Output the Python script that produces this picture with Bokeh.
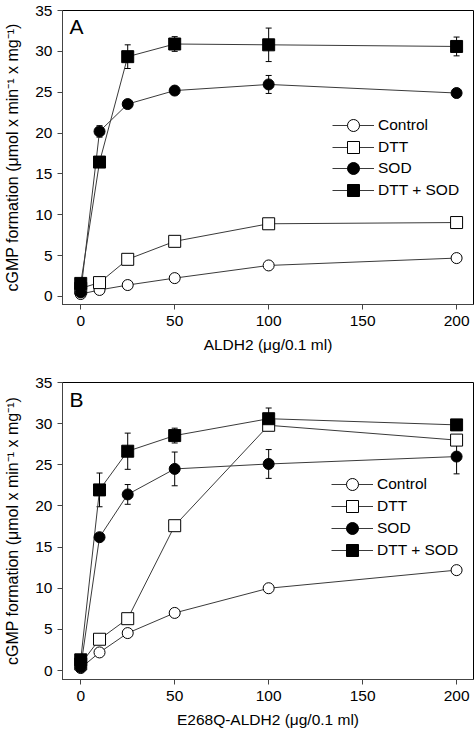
from bokeh.plotting import figure
from bokeh.layouts import column
from bokeh.models import ColumnDataSource, Whisker, TeeHead, Legend, LegendItem, Label
from bokeh.embed import file_html
from bokeh.resources import INLINE

# ---- data ----
conc = [0, 10, 25, 50, 100, 200]
x_ticks = [0, 50, 100, 150, 200]
y_ticks = [0, 5, 10, 15, 20, 25, 30, 35]
series_names = ["Control", "DTT", "SOD", "DTT + SOD"]

a_control = [0.3, 0.8, 1.4, 2.25, 3.8, 4.7]
a_dtt = [1.0, 1.7, 4.55, 6.75, 8.9, 9.05]
a_sod = [0.5, 20.2, 23.55, 25.2, 25.95, 24.9]
a_dttsod = [1.6, 16.45, 29.35, 30.9, 30.8, 30.6]
a_sod_err = [0, 0.7, 0, 0, 1.1, 0]
a_dttsod_err = [0, 0, 1.45, 0.9, 2.05, 1.15]

b_control = [0.3, 2.2, 4.55, 7.0, 10.0, 12.2]
b_dtt = [0.8, 3.8, 6.3, 17.6, 29.8, 28.0]
b_sod = [0.4, 16.2, 21.4, 24.5, 25.1, 26.0]
b_dttsod = [1.3, 21.95, 26.65, 28.55, 30.6, 29.85]
b_sod_err = [0, 0, 1.2, 2.05, 1.75, 2.1]
b_dttsod_err = [0, 2.05, 2.2, 0.9, 1.3, 0.5]

FONT = "Liberation Sans"
LINE_COLOR = "#3a3a3a"
ylabel = "cGMP formation (\u03bcmol x min\u207b\u00b9 x mg\u207b\u00b9)"

styles = [
    dict(marker="circle", fill_color="white", size=11),
    dict(marker="square", fill_color="white", size=12),
    dict(marker="circle", fill_color="black", size=11),
    dict(marker="square", fill_color="black", size=12),
]


def make_panel(letter, xlabel, values, errs, y_lo, top_border, bottom_border, height,
               leg1_loc, leg2_loc, leg_spacing, letter_y):
    p = figure(width=475, height=height, x_range=(-9.7, 209.0), y_range=(y_lo, 35),
               output_backend="svg", toolbar_location=None,
               min_border_left=62, min_border_right=2,
               min_border_top=top_border, min_border_bottom=bottom_border)
    p.grid.visible = False
    p.outline_line_color = "black"
    p.outline_line_width = 1
    p.background_fill_color = "white"

    p.xaxis.ticker = x_ticks
    p.yaxis.ticker = y_ticks
    for ax in (p.xaxis, p.yaxis):
        ax.minor_tick_line_color = None
        ax.major_tick_in = 0
        ax.major_tick_out = 5
        ax.axis_line_color = "#444444"
        ax.major_tick_line_color = "#444444"
        ax.major_label_text_font = FONT
        ax.major_label_text_font_size = "15.5px"
        ax.major_label_text_color = "black"
        ax.axis_label_text_font = FONT
        ax.axis_label_text_font_size = "15.5px"
        ax.axis_label_text_font_style = "normal"
        ax.axis_label_text_color = "black"
    p.yaxis.axis_label_text_font_size = "16px"
    p.xaxis.axis_label = xlabel
    p.yaxis.axis_label = ylabel
    p.xaxis.major_label_standoff = 6
    p.xaxis.axis_label_standoff = 7
    p.yaxis.major_label_standoff = 5
    p.yaxis.axis_label_standoff = 11

    lines = []
    for vals in values:
        lines.append(p.line(conc, vals, line_color=LINE_COLOR, line_width=1))

    for vals, err in errs:
        xs = [c for c, e in zip(conc, err) if e > 0]
        base_vals = [v for v, e in zip(vals, err) if e > 0]
        es = [e for e in err if e > 0]
        src = ColumnDataSource(dict(x=xs,
                                    upper=[v + e for v, e in zip(base_vals, es)],
                                    lower=[v - e for v, e in zip(base_vals, es)]))
        w = Whisker(source=src, base="x", upper="upper", lower="lower", dimension="height",
                    line_color="black", line_width=1,
                    upper_head=TeeHead(size=6, line_color="black", line_width=1),
                    lower_head=TeeHead(size=6, line_color="black", line_width=1))
        p.add_layout(w)

    marks = []
    for vals, st in zip(values, styles):
        marks.append(p.scatter(conc, vals, marker=st["marker"], size=st["size"],
                               fill_color=st["fill_color"], line_color="black", line_width=1))

    items = [LegendItem(label=name, renderers=[ln, mk])
             for name, ln, mk in zip(series_names, lines, marks)]
    # two interleaved legends (rows 1,3 and rows 2,4) give the tight row pitch
    for its, loc in ((items[0::2], leg1_loc), (items[1::2], leg2_loc)):
        leg = Legend(items=its, location=loc, glyph_width=42, glyph_height=30,
                     label_height=20, spacing=leg_spacing, padding=0, margin=0,
                     label_standoff=4, border_line_color=None, background_fill_alpha=0,
                     label_text_font=FONT, label_text_font_size="15.5px",
                     label_text_color="black")
        p.add_layout(leg)

    p.add_layout(Label(x=-6, y=letter_y, text=letter, text_font=FONT, text_font_size="21px",
                       text_baseline="middle", text_align="left", text_color="black"))
    return p


pa = make_panel("A", "ALDH2 (\u03bcg/0.1 ml)",
                [a_control, a_dtt, a_sod, a_dttsod],
                [(a_sod, a_sod_err), (a_dttsod, a_dttsod_err)],
                y_lo=-0.98, top_border=10, bottom_border=54, height=358,
                leg1_loc=(270, 121), leg2_loc=(270, 99), leg_spacing=13, letter_y=33.0)
pb = make_panel("B", "E268Q-ALDH2 (\u03bcg/0.1 ml)",
                [b_control, b_dtt, b_sod, b_dttsod],
                [(b_sod, b_sod_err), (b_dttsod, b_dttsod_err)],
                y_lo=-1.09, top_border=24, bottom_border=49, height=372,
                leg1_loc=(269, 136), leg2_loc=(269, 114), leg_spacing=14, letter_y=32.9)

layout = column(pa, pb, spacing=0)
open("out.html", "w").write(file_html(layout, INLINE))
